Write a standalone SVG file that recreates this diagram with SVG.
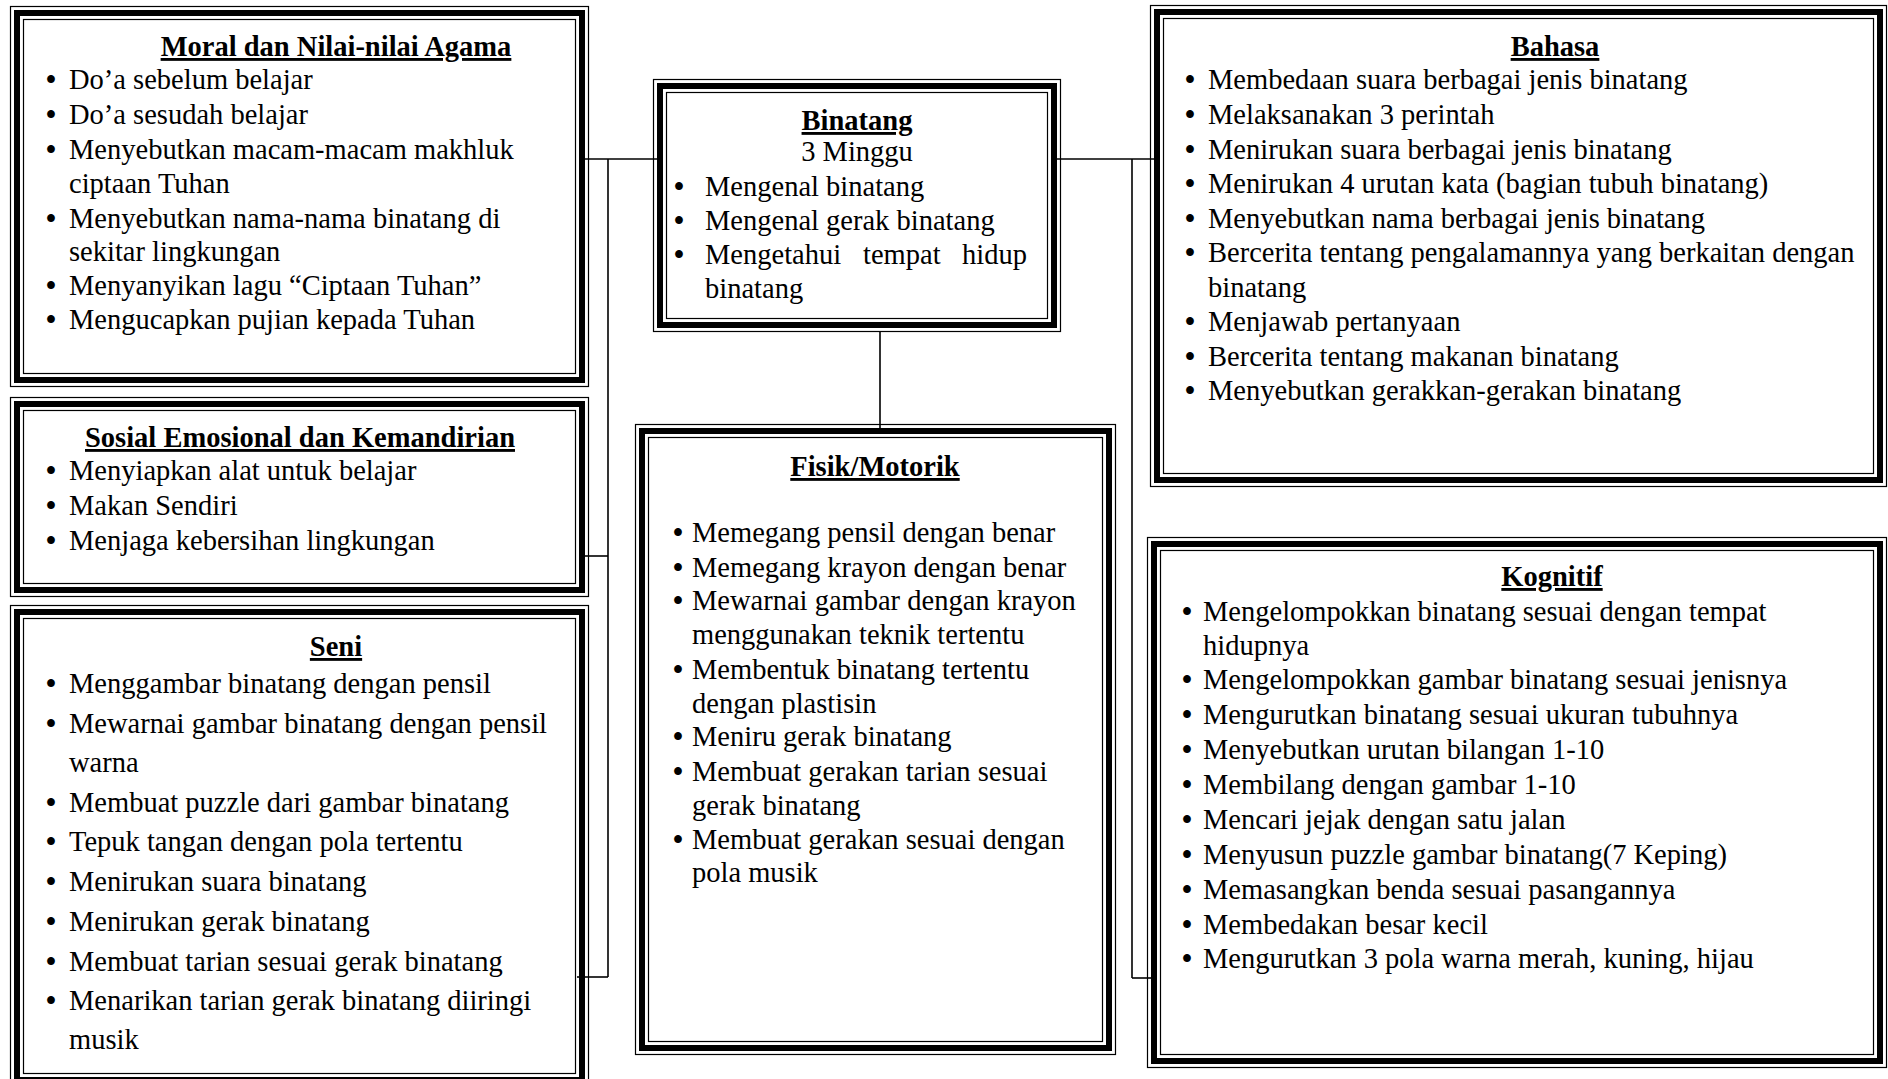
<svg xmlns="http://www.w3.org/2000/svg" width="1888" height="1079" viewBox="0 0 1888 1079">
  <style>
    .frame-outer { fill: #fff; stroke: #000; stroke-width: 1.2; }
    .frame-thick { fill: none; stroke: #000; stroke-width: 6; }
    .frame-inner { fill: none; stroke: #000; stroke-width: 1.2; }
    text { font-family: "Liberation Serif", "Times New Roman", serif; font-size: 28.5px; fill: #000; }
    .title { font-weight: bold; text-decoration: underline; text-anchor: middle; }
    .center { text-anchor: middle; }
    .dot { font-weight: bold; text-anchor: middle; }
    .conn { fill: none; stroke: #000; stroke-width: 1.6; }
  </style>

  <rect width="1888" height="1079" fill="#fff"/>

  <!-- Moral dan Nilai-nilai Agama -->
  <g id="moral">
    <rect class="frame-outer" x="10.5" y="6.5" width="578" height="380"/>
    <rect class="frame-thick" x="17" y="13" width="565" height="367"/>
    <rect class="frame-inner" x="23.5" y="19.5" width="552" height="354"/>
    <text class="title" x="336" y="56">Moral dan Nilai-nilai Agama</text>
    <text class="dot" x="51" y="89">•</text><text x="69" y="89">Do’a sebelum belajar</text>
    <text class="dot" x="51" y="124">•</text><text x="69" y="124">Do’a sesudah belajar</text>
    <text class="dot" x="51" y="159">•</text><text x="69" y="159">Menyebutkan macam-macam makhluk</text>
    <text x="69" y="193">ciptaan Tuhan</text>
    <text class="dot" x="51" y="228">•</text><text x="69" y="228">Menyebutkan nama-nama binatang di</text>
    <text x="69" y="261">sekitar lingkungan</text>
    <text class="dot" x="51" y="295">•</text><text x="69" y="295">Menyanyikan lagu “Ciptaan Tuhan”</text>
    <text class="dot" x="51" y="329">•</text><text x="69" y="329">Mengucapkan pujian kepada Tuhan</text>
  </g>

  <!-- Sosial Emosional dan Kemandirian -->
  <g id="sosial">
    <rect class="frame-outer" x="10.5" y="397.5" width="578" height="199"/>
    <rect class="frame-thick" x="17" y="404" width="565" height="186"/>
    <rect class="frame-inner" x="23.5" y="410.5" width="552" height="173"/>
    <text class="title" x="300" y="447">Sosial Emosional dan Kemandirian</text>
    <text class="dot" x="51" y="480">•</text><text x="69" y="480">Menyiapkan alat untuk belajar</text>
    <text class="dot" x="51" y="515">•</text><text x="69" y="515">Makan Sendiri</text>
    <text class="dot" x="51" y="550">•</text><text x="69" y="550">Menjaga kebersihan lingkungan</text>
  </g>

  <!-- Seni -->
  <g id="seni">
    <rect class="frame-outer" x="10.5" y="605.5" width="578" height="481"/>
    <rect class="frame-thick" x="17" y="612" width="565" height="468"/>
    <rect class="frame-inner" x="23.5" y="618.5" width="552" height="455"/>
    <text class="title" x="336" y="656">Seni</text>
    <text class="dot" x="51" y="693">•</text><text x="69" y="693">Menggambar binatang dengan pensil</text>
    <text class="dot" x="51" y="733">•</text><text x="69" y="733">Mewarnai gambar binatang dengan pensil</text>
    <text x="69" y="772">warna</text>
    <text class="dot" x="51" y="812">•</text><text x="69" y="812">Membuat puzzle dari gambar binatang</text>
    <text class="dot" x="51" y="851">•</text><text x="69" y="851">Tepuk tangan dengan pola tertentu</text>
    <text class="dot" x="51" y="891">•</text><text x="69" y="891">Menirukan suara binatang</text>
    <text class="dot" x="51" y="931">•</text><text x="69" y="931">Menirukan gerak binatang</text>
    <text class="dot" x="51" y="971">•</text><text x="69" y="971">Membuat tarian sesuai gerak binatang</text>
    <text class="dot" x="51" y="1010">•</text><text x="69" y="1010">Menarikan tarian gerak binatang diiringi</text>
    <text x="69" y="1049">musik</text>
  </g>

  <!-- Binatang (central topic) -->
  <g id="binatang">
    <rect class="frame-outer" x="653.5" y="79.5" width="407" height="252"/>
    <rect class="frame-thick" x="660" y="86" width="394" height="239"/>
    <rect class="frame-inner" x="666.5" y="92.5" width="381" height="226"/>
    <text class="title" x="857" y="130">Binatang</text>
    <text class="center" x="857" y="161">3 Minggu</text>
    <text class="dot" x="679" y="196">•</text><text x="705" y="196">Mengenal binatang</text>
    <text class="dot" x="679" y="230">•</text><text x="705" y="230">Mengenal gerak binatang</text>
    <text class="dot" x="679" y="264">•</text><text y="264"><tspan x="705">Mengetahui</tspan><tspan x="863">tempat</tspan><tspan x="962">hidup</tspan></text>
    <text x="705" y="298">binatang</text>
  </g>

  <!-- Fisik/Motorik -->
  <g id="fisik">
    <rect class="frame-outer" x="635.5" y="424.5" width="480" height="630"/>
    <rect class="frame-thick" x="642" y="431" width="467" height="617"/>
    <rect class="frame-inner" x="648.5" y="437.5" width="454" height="604"/>
    <text class="title" x="875" y="476">Fisik/Motorik</text>
    <text class="dot" x="678" y="542">•</text><text x="692" y="542">Memegang pensil dengan benar</text>
    <text class="dot" x="678" y="577">•</text><text x="692" y="577">Memegang krayon dengan benar</text>
    <text class="dot" x="678" y="610">•</text><text x="692" y="610">Mewarnai gambar dengan krayon</text>
    <text x="692" y="644">menggunakan teknik tertentu</text>
    <text class="dot" x="678" y="679">•</text><text x="692" y="679">Membentuk binatang tertentu</text>
    <text x="692" y="713">dengan plastisin</text>
    <text class="dot" x="678" y="746">•</text><text x="692" y="746">Meniru gerak binatang</text>
    <text class="dot" x="678" y="781">•</text><text x="692" y="781">Membuat gerakan tarian sesuai</text>
    <text x="692" y="815">gerak binatang</text>
    <text class="dot" x="678" y="849">•</text><text x="692" y="849">Membuat gerakan sesuai dengan</text>
    <text x="692" y="882">pola musik</text>
  </g>

  <!-- Bahasa -->
  <g id="bahasa">
    <rect class="frame-outer" x="1150.5" y="5.5" width="736" height="481"/>
    <rect class="frame-thick" x="1157" y="12" width="723" height="468"/>
    <rect class="frame-inner" x="1163.5" y="18.5" width="710" height="455"/>
    <text class="title" x="1555" y="56">Bahasa</text>
    <text class="dot" x="1190" y="89">•</text><text x="1208" y="89">Membedaan suara berbagai jenis binatang</text>
    <text class="dot" x="1190" y="124">•</text><text x="1208" y="124">Melaksanakan 3 perintah</text>
    <text class="dot" x="1190" y="159">•</text><text x="1208" y="159">Menirukan suara berbagai jenis binatang</text>
    <text class="dot" x="1190" y="193">•</text><text x="1208" y="193">Menirukan 4 urutan kata (bagian tubuh binatang)</text>
    <text class="dot" x="1190" y="228">•</text><text x="1208" y="228">Menyebutkan nama berbagai jenis binatang</text>
    <text class="dot" x="1190" y="262">•</text><text x="1208" y="262">Bercerita tentang pengalamannya yang berkaitan dengan</text>
    <text x="1208" y="297">binatang</text>
    <text class="dot" x="1190" y="331">•</text><text x="1208" y="331">Menjawab pertanyaan</text>
    <text class="dot" x="1190" y="366">•</text><text x="1208" y="366">Bercerita tentang makanan binatang</text>
    <text class="dot" x="1190" y="400">•</text><text x="1208" y="400">Menyebutkan gerakkan-gerakan binatang</text>
  </g>

  <!-- Kognitif -->
  <g id="kognitif">
    <rect class="frame-outer" x="1147.5" y="537.5" width="739" height="530"/>
    <rect class="frame-thick" x="1154" y="544" width="726" height="517"/>
    <rect class="frame-inner" x="1160.5" y="550.5" width="713" height="504"/>
    <text class="title" x="1552" y="586">Kognitif</text>
    <text class="dot" x="1187" y="621">•</text><text x="1203" y="621">Mengelompokkan binatang sesuai dengan tempat</text>
    <text x="1203" y="655">hidupnya</text>
    <text class="dot" x="1187" y="689">•</text><text x="1203" y="689">Mengelompokkan gambar binatang sesuai jenisnya</text>
    <text class="dot" x="1187" y="724">•</text><text x="1203" y="724">Mengurutkan binatang sesuai ukuran tubuhnya</text>
    <text class="dot" x="1187" y="759">•</text><text x="1203" y="759">Menyebutkan urutan bilangan 1-10</text>
    <text class="dot" x="1187" y="794">•</text><text x="1203" y="794">Membilang dengan gambar 1-10</text>
    <text class="dot" x="1187" y="829">•</text><text x="1203" y="829">Mencari jejak dengan satu jalan</text>
    <text class="dot" x="1187" y="864">•</text><text x="1203" y="864">Menyusun puzzle gambar binatang(7 Keping)</text>
    <text class="dot" x="1187" y="899">•</text><text x="1203" y="899">Memasangkan benda sesuai pasangannya</text>
    <text class="dot" x="1187" y="934">•</text><text x="1203" y="934">Membedakan besar kecil</text>
    <text class="dot" x="1187" y="968">•</text><text x="1203" y="968">Mengurutkan 3 pola warna merah, kuning, hijau</text>
  </g>

  <!-- Connectors: elbow lines from the central topic to each area -->
  <g id="connectors">
    <path class="conn" d="M584 159 H657"/>
    <path class="conn" d="M608 159 V977"/>
    <path class="conn" d="M584 556 H608"/>
    <path class="conn" d="M577 977 H608"/>
    <path class="conn" d="M1057 159 H1154"/>
    <path class="conn" d="M1132 159 V978"/>
    <path class="conn" d="M1132 978 H1154"/>
    <path class="conn" d="M880 332 V428"/>
  </g>
</svg>
